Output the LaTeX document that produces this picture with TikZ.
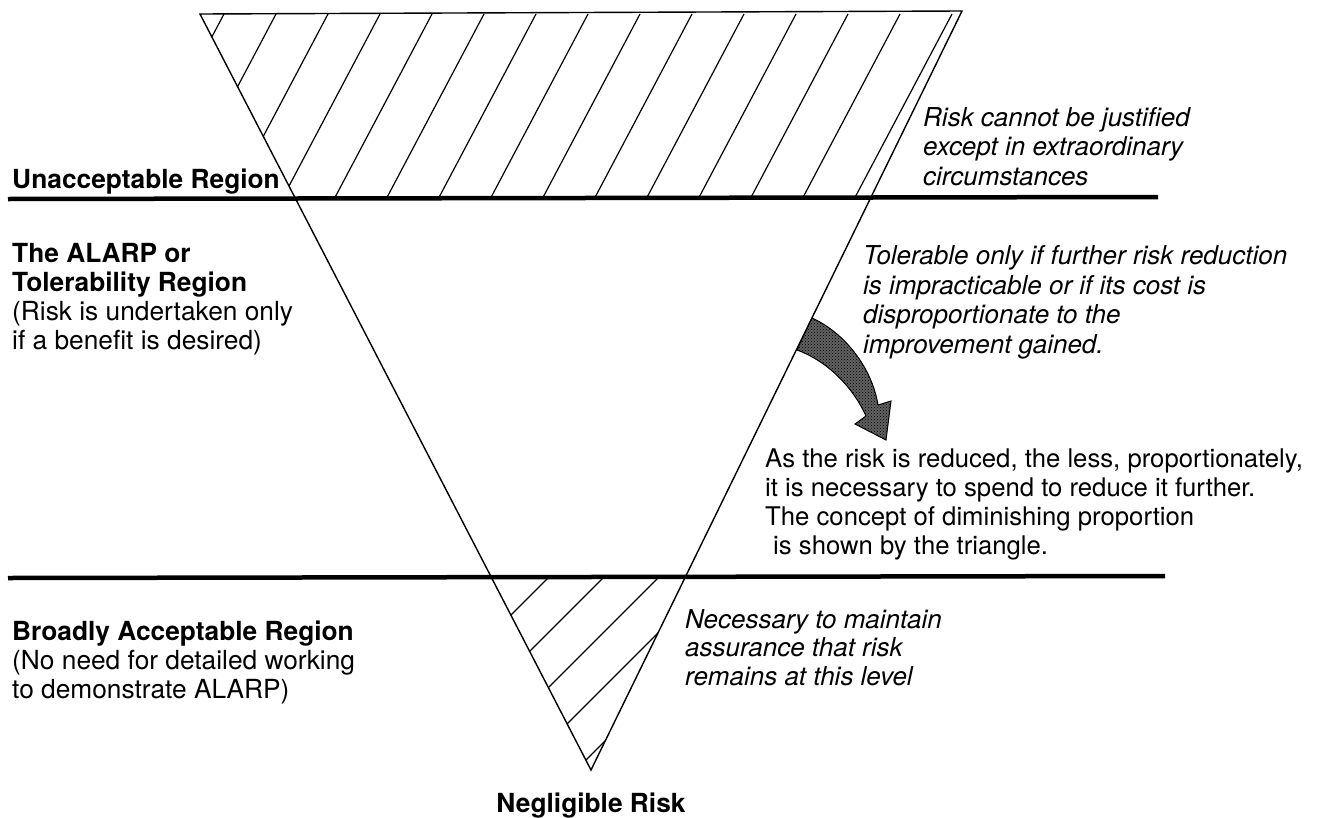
\documentclass[tikz,border=0pt]{standalone}
\usepackage{fontspec}
\setmainfont{TeX Gyre Heros}
\usetikzlibrary{patterns}
\begin{document}
\begin{tikzpicture}[x=1pt,y=-1pt,
  edge/.style={line width=1.4pt, line join=miter},
  hatchline/.style={line width=1.2pt},
  divider/.style={line width=4.5pt},
  lbl/.style={anchor=base west, inner sep=0pt, align=left,
    font=\fontsize{26.3}{28.8}\selectfont},
  head/.style={lbl, font=\fontsize{26.3}{28.8}\selectfont\bfseries},
  note/.style={lbl, font=\fontsize{26}{29.5}\selectfont\itshape},
  bigarrow/.style={draw=black, line width=1pt,
    preaction={fill=black!62}, pattern=crosshatch dots, pattern color=black}]
\useasboundingbox (0,0) rectangle (1339,817);

% triangle corners
\coordinate (TL) at (200,14);
\coordinate (TR) at (962,11);
\coordinate (AP) at (591,770);

% hatching of the unacceptable band
\begin{scope}
  \clip (TL) -- (TR) -- (AP) -- cycle;
  \clip (0,0) rectangle (1339,198);
  \foreach \x in {224,276,...,1100}
    \draw[hatchline] (\x,14) -- ++(-128,242);
\end{scope}

% hatching of the broadly acceptable band
\begin{scope}
  \clip (TL) -- (TR) -- (AP) -- cycle;
  \clip (0,577) rectangle (1339,817);
  \foreach \x in {549,604,...,800}
    \draw[hatchline] (\x,577) -- ++(-220,220);
\end{scope}

% the triangle
\draw[edge] (TL) -- (TR) -- (AP) -- cycle;

% region boundaries
\coordinate (U1) at (8,199);
\coordinate (U2) at (1158,197);
\coordinate (L1) at (8,578);
\coordinate (L2) at (1165,576);
\draw[divider] (U1) -- (U2);
\draw[divider] (L1) -- (L2);

% curved arrow leaving the right side of the triangle
\coordinate (A1) at (812,318);
\coordinate (A2) at (797,350);
\draw[bigarrow] (A1) .. controls (845,333) and (872,368) .. (878,405)
  -- (891,401) -- (886,440) -- (855,424) -- (866,416)
  .. controls (852,385) and (825,360) .. (A2) -- cycle;

% left-hand labels (positions give the baseline of the last line)
\node[head] (unacc) at (12,188) {Unacceptable Region};
\node[lbl] (alarp) at (12,349) {\textbf{The ALARP or}\\\textbf{Tolerability Region}\\(Risk is undertaken only\\if a benefit is desired)};
\node[lbl] (broad) at (12,698) {\textbf{Broadly Acceptable Region}\\(No need for detailed working\\to demonstrate ALARP)};

% right-hand notes
\node[note] (justify) at (923,185) {Risk cannot be justified\\except in extraordinary\\circumstances};
\node[note] (toler) at (863,353) {Tolerable only if further risk reduction\\is impracticable or if its cost is\\disproportionate to the\\improvement gained.};
\node[lbl, font=\fontsize{25.7}{28.7}\selectfont] (concept) at (765,554) {As the risk is reduced, the less, proportionately,\\it is necessary to spend to reduce it further.\\The concept of diminishing proportion\\\hspace*{8pt}is shown by the triangle.};
\node[note, font=\fontsize{26}{28.5}\selectfont\itshape] (maintain) at (685,685) {Necessary to maintain\\assurance that risk\\remains at this level};

% apex label
\node[head, anchor=base] (neg) at (591,812) {Negligible Risk};
\end{tikzpicture}
\end{document}
